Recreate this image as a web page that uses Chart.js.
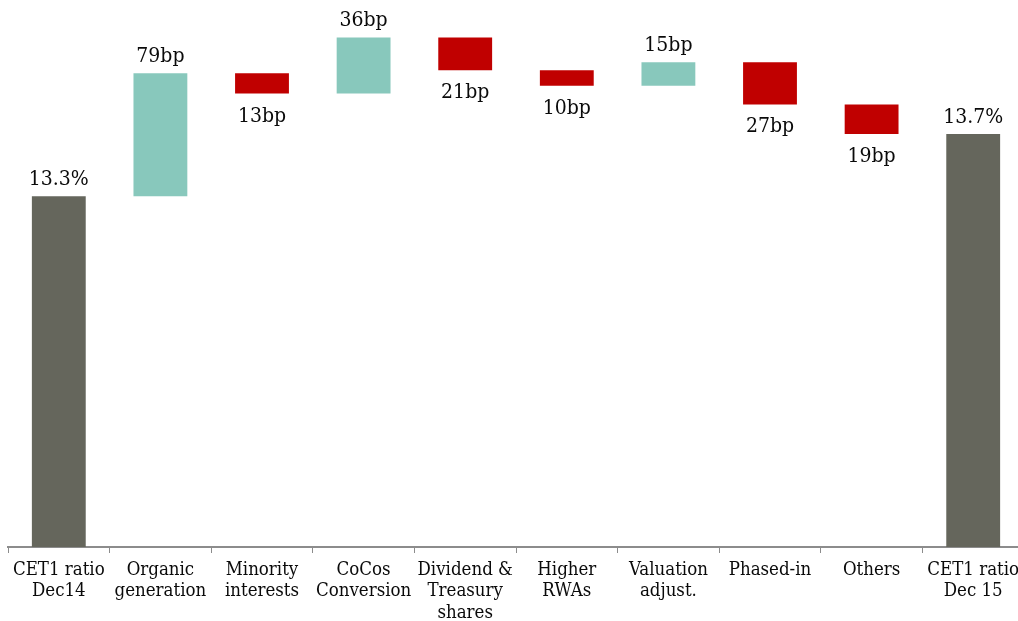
<!DOCTYPE html>
<html>
<head>
<meta charset="utf-8">
<script src="https://cdn.jsdelivr.net/npm/chart.js@4"></script>
<style>
  html, body { margin: 0; padding: 0; background: #fff; overflow: hidden; }
  #wrap { width: 1018px; height: 621px; overflow: hidden; }
</style>
</head>
<body>
<div id="wrap"><canvas id="chart" width="1030" height="621"></canvas></div>
<script>
const CATEGORIES = [
  ["CET1 ratio", "Dec14"],
  ["Organic", "generation"],
  ["Minority", "interests"],
  ["CoCos", "Conversion"],
  ["Dividend &", "Treasury", "shares"],
  ["Higher", "RWAs"],
  ["Valuation", "adjust."],
  ["Phased-in"],
  ["Others"],
  ["CET1 ratio", "Dec 15"]
];
// basis points
const START_BP = 1330;
const END_BP = 1370;
const DELTAS_BP = [79, -13, 36, -21, -10, 15, -27, -19];
const VALUE_LABELS = ["13.3%", "79bp", "13bp", "36bp", "21bp", "10bp", "15bp", "27bp", "19bp", "13.7%"];

const TOTAL_COLOR = "#65665c";
const UP_COLOR = "#88c8bc";
const DOWN_COLOR = "#c00000";
const FONT = "'DejaVu Serif Condensed', 'DejaVu Serif', serif";

// build floating bars
let floating = [], colors = [];
let running = START_BP;
floating.push([0, START_BP]);
colors.push(TOTAL_COLOR);
DELTAS_BP.forEach(d => {
  floating.push([running, running + d]);
  colors.push(d >= 0 ? UP_COLOR : DOWN_COLOR);
  running += d;
});
floating.push([0, END_BP]);
colors.push(TOTAL_COLOR);

const valueLabels = {
  id: "valueLabels",
  afterDatasetsDraw(chart) {
    const c = chart.ctx;
    const meta = chart.getDatasetMeta(0);
    const y = chart.scales.y;
    c.save();
    c.font = "21px " + FONT;
    c.fillStyle = "#0a0a0a";
    c.textAlign = "center";
    c.textBaseline = "alphabetic";
    meta.data.forEach((bar, i) => {
      const [a, b] = floating[i];
      const hi = y.getPixelForValue(Math.max(a, b));
      const lo = y.getPixelForValue(Math.min(a, b));
      const down = b < a;
      const ty = down ? lo + 28 : hi - 11;
      c.fillText(VALUE_LABELS[i], bar.x, ty);
    });
    c.restore();
  }
};

new Chart(document.getElementById("chart"), {
  type: "bar",
  data: {
    labels: CATEGORIES,
    datasets: [{
      data: floating,
      backgroundColor: colors,
      borderWidth: 0,
      barPercentage: 0.53,
      categoryPercentage: 1
    }]
  },
  options: {
    responsive: false,
    animation: false,
    layout: { padding: { left: 8, right: 6, top: 0, bottom: 0 } },
    plugins: { legend: { display: false }, tooltip: { enabled: false } },
    scales: {
      x: {
        offset: true,
        grid: {
          offset: true,
          drawOnChartArea: false,
          drawTicks: true,
          tickLength: 6,
          color: "#8c8c8c",
          lineWidth: 1
        },
        border: { color: "#8c8c8c", width: 2 },
        ticks: {
          padding: 7,
          color: "#0a0a0a",
          maxRotation: 0,
          autoSkip: false,
          font: { family: FONT, size: 18.5, lineHeight: 1.14 }
        },
        afterFit(scale) { scale.height = 74; }
      },
      y: {
        display: false,
        min: 1105,
        max: 1456
      }
    }
  },
  plugins: [valueLabels]
});
</script>
</body>
</html>
